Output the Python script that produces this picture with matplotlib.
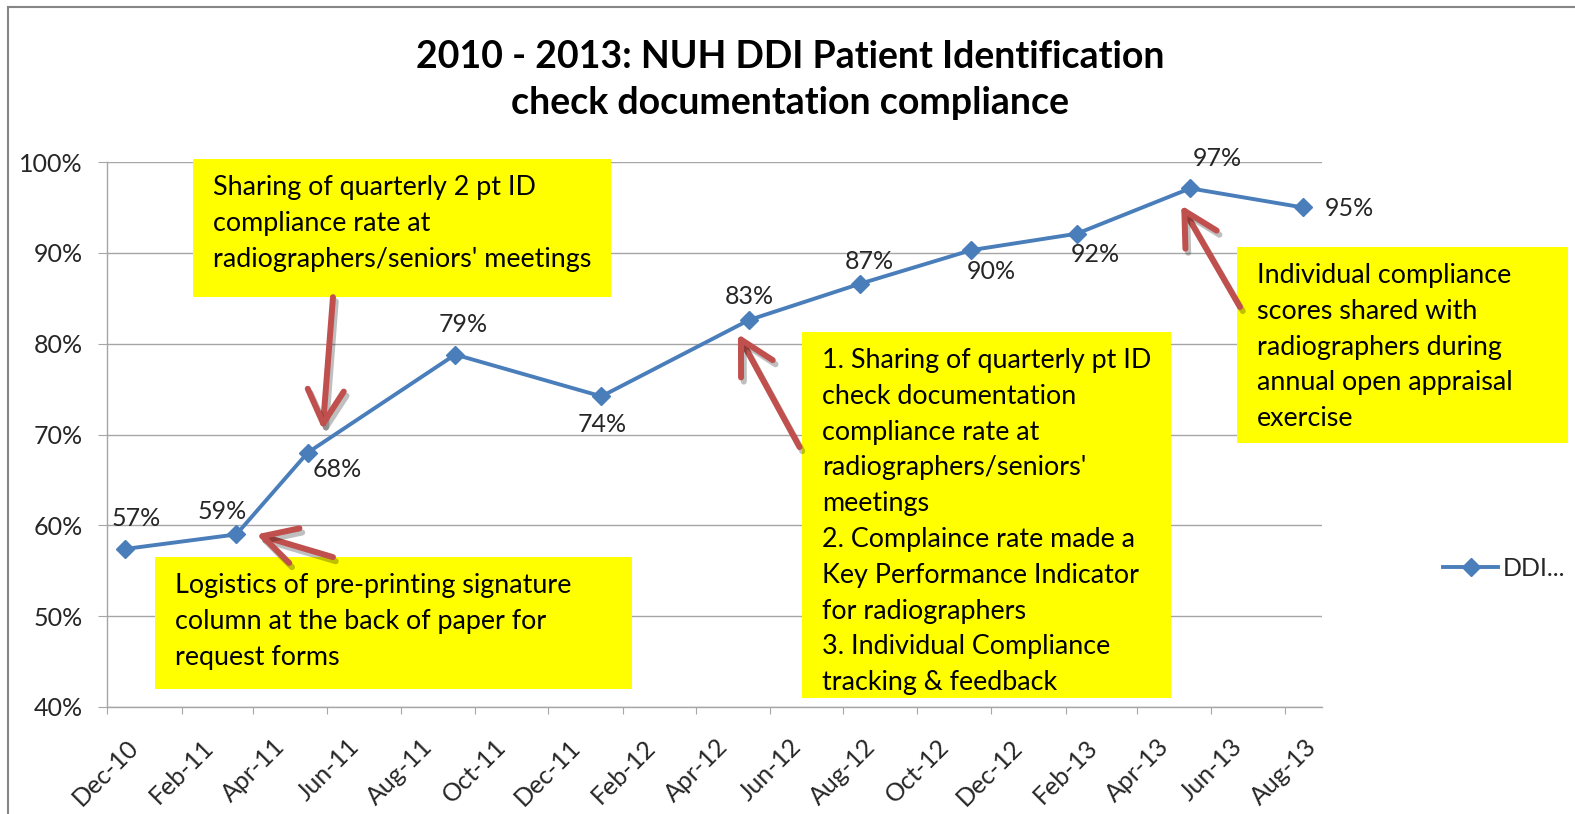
import numpy as np
import pandas as pd
import matplotlib
matplotlib.use("Agg")
import matplotlib.pyplot as plt
from matplotlib import dates as mdates
from matplotlib import transforms as mtrans
from matplotlib import patheffects as pe
from matplotlib.patches import Rectangle
from matplotlib.lines import Line2D

plt.rcParams['font.family'] = ['Lato', 'DejaVu Sans']

# data
dates = pd.to_datetime([
    "2010-12-16", "2011-03-18", "2011-05-16", "2011-09-15", "2012-01-14",
    "2012-05-15", "2012-08-15", "2012-11-15", "2013-02-10", "2013-05-15",
    "2013-08-16",
])
values = [57.4, 59.0, 68.0, 78.8, 74.2, 82.6, 86.6, 90.3, 92.1, 97.1, 95.0]
series_name = "DDI..."
title = "2010 - 2013: NUH DDI Patient Identification\ncheck documentation compliance"
tick_dates = pd.date_range("2010-12-01", "2013-08-01", freq="2MS")

notes = [
    "Sharing of quarterly 2 pt ID\ncompliance rate at\nradiographers/seniors' meetings",
    "Logistics of pre-printing signature\ncolumn at the back of paper for\nrequest forms",
    "1. Sharing of quarterly pt ID\ncheck documentation\ncompliance rate at\nradiographers/seniors'\nmeetings\n"
    "2. Complaince rate made a\nKey Performance Indicator\nfor radiographers\n"
    "3. Individual Compliance\ntracking & feedback",
    "Individual compliance\nscores shared with\nradiographers during\nannual open appraisal\nexercise",
]
note_points = [2, 1, 5, 9]  # which point each note's arrow points at

# layout
W, H = 1575, 814
label_off = [(11, 30), (-14, 23), (30, -17), (8, 30), (1, -28), (0, 24),
             (9, 22), (20, -21), (19, -21), (27, 30), (47, -1)]
boxes = [(0.0708, 0.752, 0.344, 0.2535),
         (0.0395, 0.033, 0.3925, 0.242),
         (0.572, 0.0165, 0.3037, 0.6715),
         (0.930, 0.4844, 0.2725, 0.3596)]
arrow_tail = [(0.186, 0.752), (0.186, 0.275), (0.570, 0.477), (0.9325, 0.734)]
arrow_tip_off = [(15, 23), (20, 0), (-11, -14), (-9, -17)]

blue = "#4A7EBB"
red = "#C0504D"
grey = "#A6A6A6"
txt = "#262626"
fs = 18

fig = plt.figure(figsize=(W / 100, H / 100), dpi=100)
ax = fig.add_axes([107 / W, 1 - 707 / H, 1215 / W, 545 / H])

ax.plot(dates, values, color=blue, lw=2.8, marker="D", ms=9.5, mec=blue,
        label=series_name, zorder=6, clip_on=False)

ax.set_ylim(40, 100)
ax.set_yticks(np.arange(40, 101, 10))
ax.yaxis.set_major_formatter(lambda v, p: f"{v:.0f}%")
ax.set_xlim(pd.Timestamp("2010-12-01"), pd.Timestamp("2013-09-01"))
ax.set_xticks(tick_dates)
ax.xaxis.set_major_formatter(mdates.DateFormatter("%b-%y"))

ax.grid(axis="y", color=grey, lw=1.0)
ax.set_axisbelow(True)
for s in ["top", "right"]:
    ax.spines[s].set_visible(False)
for s in ["left", "bottom"]:
    ax.spines[s].set_color(grey)
    ax.spines[s].set_linewidth(1.0)

ax.tick_params(axis="y", color=grey, labelsize=fs, labelcolor=txt, length=6.5, pad=11)
ax.tick_params(axis="x", color=grey, labelsize=fs, labelcolor=txt, length=5, pad=21)
shift = mtrans.ScaledTranslation(28 / 100, 0, fig.dpi_scale_trans)
for lab in ax.get_xticklabels():
    lab.set_rotation(45)
    lab.set_rotation_mode("anchor")
    lab.set_ha("right")
    lab.set_va("center")
    lab.set_transform(lab.get_transform() + shift)

# data labels
for d, v, off in zip(dates, values, label_off):
    ax.annotate(f"{v:.0f}%", xy=(d, v), xytext=off, textcoords="offset pixels",
                ha="center", va="center", fontsize=fs, color=txt, zorder=7)

# yellow note boxes
for (x0, y0, w, h), note in zip(boxes, notes):
    ax.add_patch(Rectangle((x0, y0), w, h, transform=ax.transAxes,
                           facecolor="#FFFF00", edgecolor="none",
                           clip_on=False, zorder=3))
    ax.annotate(note, xy=(x0, y0 + h), xycoords="axes fraction",
                xytext=(20, -16), textcoords="offset pixels",
                ha="left", va="top", fontsize=19.4, color="black",
                linespacing=1.54, zorder=4, annotation_clip=False)

# red arrows
for idx, tail, (dx, dy) in zip(note_points, arrow_tail, arrow_tip_off):
    tip_tr = ax.transData + mtrans.ScaledTranslation(dx / 100, dy / 100, fig.dpi_scale_trans)
    ax.annotate("", xy=(mdates.date2num(dates[idx]), values[idx]), xycoords=tip_tr,
                xytext=tail, textcoords="axes fraction",
                arrowprops=dict(arrowstyle="->,head_length=1.2,head_width=0.65",
                                color=red, lw=4.3, mutation_scale=20,
                                shrinkA=0, shrinkB=0,
                                path_effects=[pe.SimpleLineShadow(offset=(2, -3), alpha=0.25),
                                              pe.Normal()]),
                zorder=8, annotation_clip=False)

ax.legend(loc="center left", bbox_to_anchor=(1.0996, 0.255), frameon=False,
          fontsize=fs, handlelength=2.2, handletextpad=0.2,
          borderaxespad=0, borderpad=0, labelcolor=txt)

fig.text(790 / W, 1 - 80 / H, title, ha="center", va="center",
         fontsize=27, fontweight="bold", linespacing=1.44)

# chart frame (left and top edges visible)
fig.add_artist(Line2D([8 / W, 8 / W], [0, 1 - 7 / H], color="#868686", lw=1.5,
                      transform=fig.transFigure))
fig.add_artist(Line2D([8 / W, 1], [1 - 7 / H, 1 - 7 / H], color="#868686", lw=1.5,
                      transform=fig.transFigure))

fig.savefig("out.png", dpi=100)
